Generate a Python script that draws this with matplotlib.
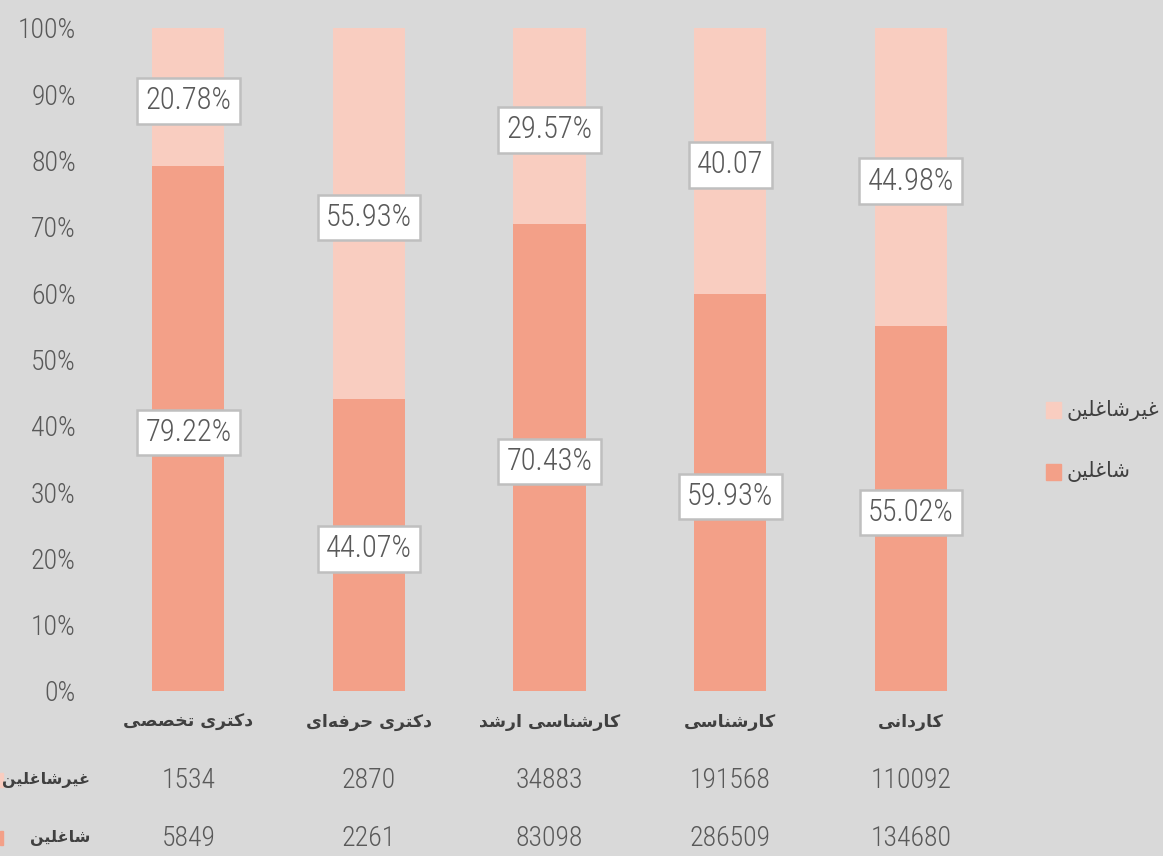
import matplotlib
matplotlib.use("Agg")
import matplotlib.pyplot as plt
from matplotlib.patches import Rectangle
from matplotlib.transforms import blended_transform_factory

# ---------------- data ----------------
categories = ["دکتری تخصصی", "دکتری حرفه\u200cای", "کارشناسی ارشد", "کارشناسی", "کاردانی"]
series_names = ["شاغلین", "غیرشاغلین"]
employed_pct = [79.22, 44.07, 70.43, 59.93, 55.02]
unemployed_pct = [20.78, 55.93, 29.57, 40.07, 44.98]
employed_labels = ["79.22%", "44.07%", "70.43%", "59.93%", "55.02%"]
unemployed_labels = ["20.78%", "55.93%", "29.57%", "40.07", "44.98%"]
employed_counts = [5849, 2261, 83098, 286509, 134680]
unemployed_counts = [1534, 2870, 34883, 191568, 110092]
y_ticks = [0, 10, 20, 30, 40, 50, 60, 70, 80, 90, 100]

# ---------------- minimal Arabic/Persian shaping ----------------
FORMS = {
    'ا': ('\uFE8D', '\uFE8E', None, None),
    'ت': ('\uFE95', '\uFE96', '\uFE97', '\uFE98'),
    'ح': ('\uFEA1', '\uFEA2', '\uFEA3', '\uFEA4'),
    'خ': ('\uFEA5', '\uFEA6', '\uFEA7', '\uFEA8'),
    'د': ('\uFEA9', '\uFEAA', None, None),
    'ر': ('\uFEAD', '\uFEAE', None, None),
    'س': ('\uFEB1', '\uFEB2', '\uFEB3', '\uFEB4'),
    'ش': ('\uFEB5', '\uFEB6', '\uFEB7', '\uFEB8'),
    'ص': ('\uFEB9', '\uFEBA', '\uFEBB', '\uFEBC'),
    'غ': ('\uFECD', '\uFECE', '\uFECF', '\uFED0'),
    'ف': ('\uFED1', '\uFED2', '\uFED3', '\uFED4'),
    'ل': ('\uFEDD', '\uFEDE', '\uFEDF', '\uFEE0'),
    'ن': ('\uFEE5', '\uFEE6', '\uFEE7', '\uFEE8'),
    'ه': ('\uFEE9', '\uFEEA', '\uFEEB', '\uFEEC'),
    'ک': ('\uFB8E', '\uFB8F', '\uFB90', '\uFB91'),
    'ی': ('\uFBFC', '\uFBFD', '\uFBFE', '\uFBFF'),
}


def shape(text):
    chars = list(text)
    out = []
    n = len(chars)
    for i, c in enumerate(chars):
        if c == '\u200c':
            continue
        if c not in FORMS:
            out.append(c)
            continue
        prev = chars[i - 1] if i > 0 else None
        nxt = chars[i + 1] if i < n - 1 else None
        join_prev = prev in FORMS and FORMS[prev][2] is not None
        join_next = FORMS[c][2] is not None and nxt in FORMS
        iso, fin, ini, med = FORMS[c]
        if join_prev and join_next:
            out.append(med)
        elif join_prev:
            out.append(fin)
        elif join_next:
            out.append(ini)
        else:
            out.append(iso)
    return ''.join(reversed(out))


# ---------------- style ----------------
BG = "#d9d9d9"
DARK = "#f3a088"
LIGHT = "#f9cdc0"
TXT = "#595959"
NUMFONT = ["Roboto Condensed", "Roboto", "DejaVu Sans"]
NUMW = "light"
FAFONT = ["DejaVu Sans"]

fig = plt.figure(figsize=(11.63, 8.56), dpi=100, facecolor=BG)
ax = fig.add_axes([0.0843, 0.1928, 0.7765, 0.7745], facecolor=BG)

x = list(range(len(categories)))
ax.bar(x, employed_pct, width=0.4, color=DARK, zorder=2)
ax.bar(x, unemployed_pct, width=0.4, bottom=employed_pct, color=LIGHT, zorder=2)

ax.set_xlim(-0.5, len(categories) - 0.5)
ax.set_ylim(0, 100)
ax.set_yticks(y_ticks)
ax.set_yticklabels([f"{t}%" for t in y_ticks], fontfamily=NUMFONT, fontweight=NUMW,
                   fontsize=20, color=TXT)
ax.tick_params(axis='y', length=0, pad=16)
ax.set_xticks([])
for s in ax.spines.values():
    s.set_visible(False)

box = dict(boxstyle='square,pad=0.27', fc='white', ec='#bfbfbf', lw=1.8)
for i in x:
    ax.text(i, employed_pct[i] / 2 - 0.6, employed_labels[i], ha='center', va='center',
            fontfamily=NUMFONT, fontweight=NUMW, fontsize=22, color=TXT, bbox=box, zorder=5)
    ax.text(i, employed_pct[i] + unemployed_pct[i] / 2 - 0.6, unemployed_labels[i],
            ha='center', va='center', fontfamily=NUMFONT, fontweight=NUMW, fontsize=22,
            color=TXT, bbox=box, zorder=5)

# ---------------- data table below ----------------
tr = blended_transform_factory(ax.transData, fig.transFigure)
y_cat = 1 - 722 / 856
y_r1 = 1 - 780 / 856
y_r2 = 1 - 838 / 856
for i in x:
    ax.text(i, y_cat, shape(categories[i]), transform=tr, ha='center', va='center',
            fontfamily=FAFONT, fontsize=12.5, fontweight='bold', color="#404040")
    ax.text(i, y_r1, str(unemployed_counts[i]), transform=tr, ha='center', va='center',
            fontfamily=NUMFONT, fontweight=NUMW, fontsize=20, color=TXT)
    ax.text(i, y_r2, str(employed_counts[i]), transform=tr, ha='center', va='center',
            fontfamily=NUMFONT, fontweight=NUMW, fontsize=20, color=TXT)

fig.text(90 / 1163, y_r1, shape(series_names[1]), ha='right', va='center',
         fontfamily=FAFONT, fontsize=11.5, fontweight='bold', color="#404040")
fig.text(90 / 1163, y_r2, shape(series_names[0]), ha='right', va='center',
         fontfamily=FAFONT, fontsize=11.5, fontweight='bold', color="#404040")
fig.add_artist(Rectangle((0, y_r1 - 7 / 856), 3 / 1163, 14 / 856, transform=fig.transFigure,
                         color=LIGHT))
fig.add_artist(Rectangle((0, y_r2 - 7 / 856), 3 / 1163, 14 / 856, transform=fig.transFigure,
                         color=DARK))

# ---------------- legend (right) ----------------
for name, col, ypx in [(series_names[1], LIGHT, 410), (series_names[0], DARK, 472)]:
    yf = 1 - ypx / 856
    fig.add_artist(Rectangle((1046 / 1163, yf - 8 / 856), 15 / 1163, 16 / 856,
                             transform=fig.transFigure, color=col))
    fig.text(1066 / 1163, yf, shape(name), ha='left', va='center',
             fontfamily=FAFONT, fontsize=15, color="#404040")

fig.savefig("out.png", dpi=100, facecolor=BG)
